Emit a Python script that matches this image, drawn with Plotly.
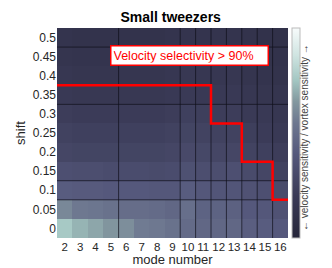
import plotly.graph_objects as go

modes = list(range(2, 17))
shifts = [0, 0.05, 0.1, 0.15, 0.2, 0.25, 0.3, 0.35, 0.4, 0.45, 0.5]
ytick_labels = ["0", "0.05", "0.1", "0.15", "0.2", "0.25", "0.3", "0.35", "0.4", "0.45", "0.5"]

# ratio values, rows = shifts (bottom to top), cols = modes 2..16
z = [
    [0.76, 0.71, 0.68, 0.64, 0.62, 0.56, 0.55, 0.52, 0.49, 0.47, 0.47, 0.47, 0.43, 0.42, 0.40],
    [0.60, 0.55, 0.54, 0.52, 0.50, 0.50, 0.49, 0.47, 0.51, 0.45, 0.45, 0.44, 0.40, 0.39, 0.36],
    [0.42, 0.41, 0.41, 0.40, 0.40, 0.40, 0.39, 0.39, 0.42, 0.39, 0.38, 0.38, 0.36, 0.34, 0.31],
    [0.34, 0.33, 0.33, 0.32, 0.32, 0.32, 0.31, 0.32, 0.35, 0.33, 0.33, 0.34, 0.31, 0.28, 0.25],
    [0.28, 0.27, 0.27, 0.27, 0.27, 0.27, 0.27, 0.28, 0.30, 0.29, 0.28, 0.28, 0.26, 0.24, 0.22],
    [0.25, 0.24, 0.24, 0.24, 0.24, 0.24, 0.24, 0.25, 0.27, 0.26, 0.25, 0.25, 0.23, 0.21, 0.19],
    [0.22, 0.21, 0.21, 0.21, 0.21, 0.21, 0.21, 0.22, 0.24, 0.23, 0.22, 0.22, 0.20, 0.19, 0.17],
    [0.19, 0.18, 0.18, 0.18, 0.18, 0.18, 0.18, 0.19, 0.20, 0.19, 0.19, 0.19, 0.17, 0.16, 0.15],
    [0.17, 0.16, 0.16, 0.16, 0.16, 0.16, 0.16, 0.17, 0.18, 0.17, 0.17, 0.17, 0.15, 0.14, 0.13],
    [0.15, 0.14, 0.14, 0.14, 0.14, 0.14, 0.14, 0.15, 0.16, 0.15, 0.15, 0.15, 0.14, 0.13, 0.12],
    [0.14, 0.13, 0.13, 0.13, 0.13, 0.13, 0.13, 0.14, 0.14, 0.14, 0.14, 0.14, 0.13, 0.12, 0.11],
]

# 90% selectivity boundary (step)
step_x = [1.5, 11.5, 13.5, 15.5, 16.5]
step_y = [0.375, 0.275, 0.175, 0.075, 0.075]

# cell-edge lines visible in the image
vgrid_x = [5.5, 9.5, 10.5, 11.5, 12.5, 13.5, 14.5, 15.5]
hgrid_y = [0.475, 0.325, 0.125, 0.075]

colorscale = [
    [0.0, "#26263a"],
    [0.2, "#3a3a56"],
    [0.4, "#55587c"],
    [0.55, "#6e7890"],
    [0.65, "#83989f"],
    [0.75, "#a3c6c2"],
    [0.87, "#cfe4e1"],
    [1.0, "#f7fbfb"],
]

x_lo, x_hi = 1.5, 16.5
y_lo, y_hi = -0.025, 0.525

fig = go.Figure()
fig.add_trace(go.Heatmap(
    x=modes, y=shifts, z=z, zmin=0, zmax=1, colorscale=colorscale,
    colorbar=dict(x=1.017, xanchor="left", xpad=0, ypad=0, len=1, thickness=8,
                  outlinecolor="#bbbbbb", outlinewidth=1,
                  showticklabels=False, ticks=""),
    hoverinfo="skip",
))

gx, gy = [], []
for xv in vgrid_x:
    gx += [xv, xv, None]
    gy += [y_lo, y_hi, None]
for yv in hgrid_y:
    gx += [x_lo, x_hi, None]
    gy += [yv, yv, None]
fig.add_trace(go.Scatter(
    x=gx, y=gy, mode="lines", line=dict(color="rgba(15,15,25,0.7)", width=1),
    showlegend=False, hoverinfo="skip",
))

fig.add_trace(go.Scatter(
    x=step_x, y=step_y, mode="lines", line=dict(color="#ff0000", width=2.5, shape="hv"),
    showlegend=False, hoverinfo="skip",
))

fig.update_layout(
    width=332, height=268,
    margin=dict(l=45, r=52, t=20, b=34),
    paper_bgcolor="white", plot_bgcolor="white",
    font=dict(family="Liberation Sans, Arial, sans-serif", color="#262626", size=12),
    title=dict(text="<b>Small tweezers</b>", x=0.49, xanchor="center", y=0.965, yanchor="middle",
               font=dict(size=14, color="#000000")),
    xaxis=dict(range=[x_lo, x_hi], tickmode="array", tickvals=modes, ticks="", tickangle=0,
               showgrid=False, zeroline=False, showline=False,
               title=dict(text="mode number", font=dict(size=13), standoff=2),
               tickfont=dict(size=11.5)),
    yaxis=dict(range=[y_lo, y_hi], tickmode="array", tickvals=shifts, ticktext=ytick_labels,
               ticks="", showgrid=False, zeroline=False, showline=False,
               title=dict(text="shift", font=dict(size=13), standoff=4),
               tickfont=dict(size=12)),
    annotations=[
        dict(x=10.09, y=0.452, xref="x", yref="y", text="Velocity selectivity > 90%",
             showarrow=False, font=dict(size=12.5, color="#ff0000"),
             bgcolor="white", bordercolor="#ff0000", borderwidth=1.5, borderpad=2,
             width=152, align="left", xanchor="center", yanchor="middle"),
        dict(x=(305 - 45) / 235, y=(234 - 132) / 214, xref="paper", yref="paper",
             text="← velocity sensitivity / vortex sensitivity →",
             showarrow=False, textangle=-90, font=dict(size=10, color="#444444")),
    ],
)

fig.write_html("out.html")
